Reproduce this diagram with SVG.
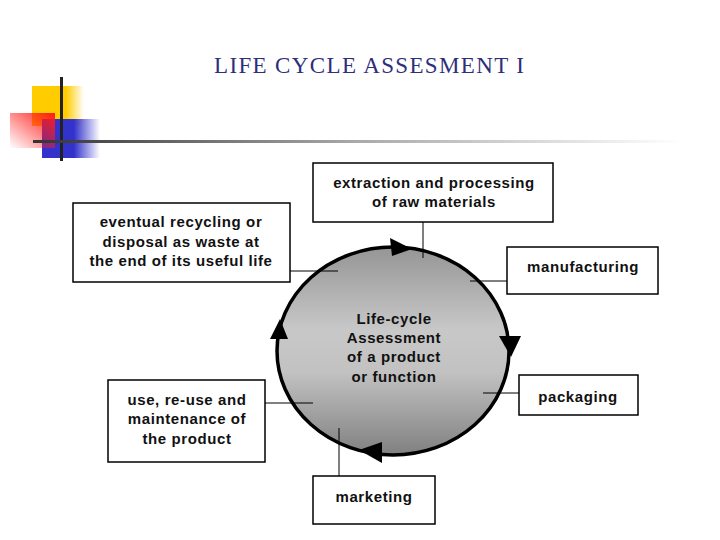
<svg xmlns="http://www.w3.org/2000/svg" width="720" height="540" viewBox="0 0 720 540">
<defs>
<linearGradient id="gY" x1="0" y1="0" x2="1" y2="0"><stop offset="0" stop-color="#ffcc00"/><stop offset="0.65" stop-color="#ffcc00"/><stop offset="1" stop-color="#ffcc00" stop-opacity="0"/></linearGradient>
<linearGradient id="gB" x1="0" y1="0" x2="1" y2="0"><stop offset="0" stop-color="#3333cc"/><stop offset="0.55" stop-color="#3333cc"/><stop offset="1" stop-color="#3333cc" stop-opacity="0"/></linearGradient>
<linearGradient id="gR" x1="1" y1="0" x2="0" y2="1"><stop offset="0" stop-color="#ff1a1a"/><stop offset="1" stop-color="#ff1a1a" stop-opacity="0"/></linearGradient>
<linearGradient id="gL" x1="0" y1="0" x2="1" y2="0"><stop offset="0" stop-color="#333"/><stop offset="0.5" stop-color="#aaa"/><stop offset="1" stop-color="#fff"/></linearGradient>
<linearGradient id="gC" x1="0" y1="0" x2="0" y2="1"><stop offset="0" stop-color="#959595"/><stop offset="0.4" stop-color="#c8c8c8"/><stop offset="0.6" stop-color="#c2c2c2"/><stop offset="1" stop-color="#808080"/></linearGradient>
<style>
.box{fill:#fff;stroke:#000;stroke-width:1.5}
.t{font-family:"Liberation Sans",Arial,sans-serif;font-weight:bold;font-size:15px;letter-spacing:0.6px;text-anchor:middle;fill:#111}
.ln{stroke:#000;stroke-width:1}
.ah{fill:#000}
</style>
</defs>
<rect width="720" height="540" fill="#fff"/>
<g id="decoration">
<rect x="32" y="86" width="52" height="40" fill="url(#gY)"/>
<rect x="42" y="119" width="58" height="39" fill="url(#gB)"/>
<rect x="10" y="113" width="45" height="35" fill="url(#gR)"/>
<rect x="60" y="77" width="3" height="84" fill="#222"/>
<rect x="33" y="140" width="650" height="3" fill="url(#gL)"/>
</g>
<text x="369" y="73" font-family="Liberation Serif,'Times New Roman',serif" font-size="23" fill="#2e2e7a" text-anchor="middle" textLength="310" lengthAdjust="spacing">LIFE CYCLE ASSESMENT I</text>
<g id="center">
<ellipse cx="393" cy="351" rx="116" ry="104" fill="url(#gC)" stroke="#000" stroke-width="3.5"/>
<text class="t"><tspan x="394" y="324">Life-cycle</tspan><tspan x="394" y="343">Assessment</tspan><tspan x="394" y="362">of a product</tspan><tspan x="394" y="382">or function</tspan></text>
</g>
<g id="connectors">
<line class="ln" x1="423" y1="222" x2="423" y2="258"/>
<line class="ln" x1="470" y1="281" x2="507" y2="281"/>
<line class="ln" x1="290" y1="271" x2="338" y2="271"/>
<line class="ln" x1="265" y1="403" x2="313" y2="403"/>
<line class="ln" x1="483" y1="393" x2="519" y2="393"/>
<line class="ln" x1="339" y1="428" x2="339" y2="476"/>
<polygon class="ah" points="390,238 392,256 412,249"/>
<polygon class="ah" points="499,336 521,336 511,357"/>
<polygon class="ah" points="382,442 382,463 359,450"/>
<polygon class="ah" points="270,339 288,339 280,319"/>
</g>
<g id="extraction">
<rect class="box" x="313" y="163" width="240" height="59"/>
<text class="t"><tspan x="434" y="188">extraction and processing</tspan><tspan x="434" y="207">of raw materials</tspan></text>
</g>
<g id="manufacturing">
<rect class="box" x="507" y="247" width="151" height="47"/>
<text class="t" x="583" y="272">manufacturing</text>
</g>
<g id="recycling">
<rect class="box" x="73" y="203" width="217" height="79"/>
<text class="t"><tspan x="181" y="227">eventual recycling or</tspan><tspan x="181" y="247">disposal as waste at</tspan><tspan x="181" y="266">the end of its useful life</tspan></text>
</g>
<g id="use">
<rect class="box" x="108" y="380" width="157" height="82"/>
<text class="t"><tspan x="187" y="405">use, re-use and</tspan><tspan x="187" y="424">maintenance of</tspan><tspan x="187" y="444">the product</tspan></text>
</g>
<g id="packaging">
<rect class="box" x="519" y="375" width="119" height="40"/>
<text class="t" x="578" y="402">packaging</text>
</g>
<g id="marketing">
<rect class="box" x="313" y="476" width="122" height="48"/>
<text class="t" x="374" y="502">marketing</text>
</g>
</svg>
